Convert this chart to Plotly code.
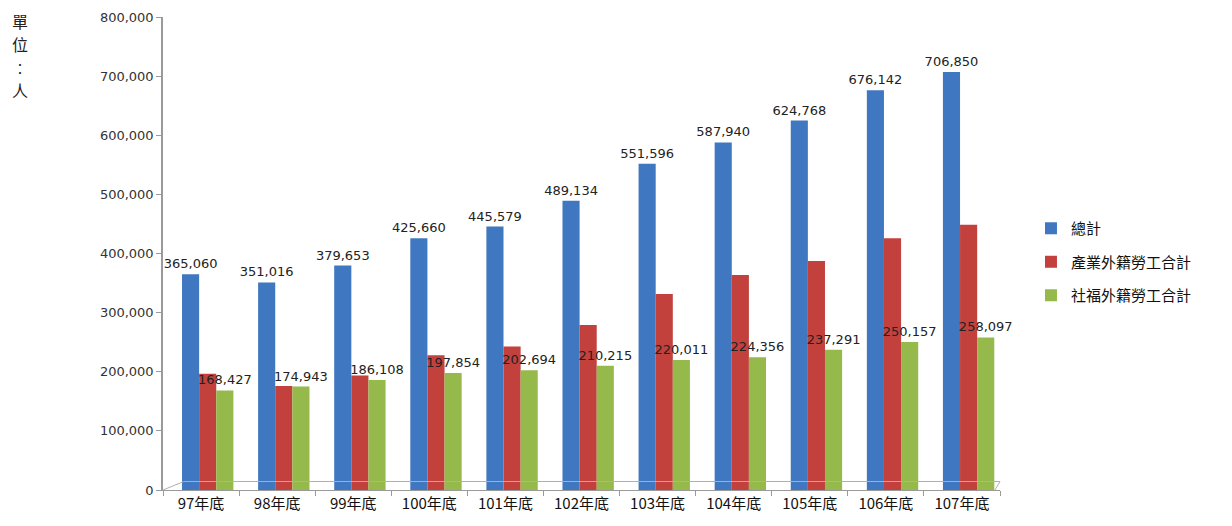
import plotly.graph_objects as go

categories = ["97年底", "98年底", "99年底", "100年底", "101年底", "102年底",
              "103年底", "104年底", "105年底", "106年底", "107年底"]
total = [365060, 351016, 379653, 425660, 445579, 489134, 551596, 587940, 624768, 676142, 706850]
industry = [196633, 176073, 193545, 227806, 242885, 278919, 331585, 363584, 387477, 425985, 448753]
welfare = [168427, 174943, 186108, 197854, 202694, 210215, 220011, 224356, 237291, 250157, 258097]
series_names = ["總計", "產業外籍勞工合計", "社福外籍勞工合計"]
colors = ["#3f77c0", "#c2413d", "#96b94c"]
unit_chars = ["單", "位", "︰", "人"]

FONT = "Noto Sans CJK TC, Noto Sans, sans-serif"
LABEL_FONT = dict(size=13, color="#222222", family="DejaVu Sans")
BAR_W = 0.225
OFFSETS = [-0.25, -0.025, 0.2]

fig = go.Figure()
fig.add_trace(go.Bar(
    x=categories, y=total, name=series_names[0], legendgroup="a",
    width=BAR_W, offset=OFFSETS[0],
    marker=dict(color=colors[0], line=dict(width=0)),
    text=[f"{v:,}" for v in total], textposition="outside", cliponaxis=False,
    constraintext="none", textfont=LABEL_FONT,
))
fig.add_trace(go.Bar(
    x=categories, y=industry, name=series_names[1], legendgroup="b",
    width=BAR_W, offset=OFFSETS[1],
    marker=dict(color=colors[1], line=dict(width=0)),
))
fig.add_trace(go.Bar(
    x=categories, y=welfare, name=series_names[2], legendgroup="c",
    width=BAR_W, offset=OFFSETS[2],
    marker=dict(color=colors[2], line=dict(width=0)),
    text=[f"{v:,}" for v in welfare], textposition="outside", cliponaxis=False,
    constraintext="none", textfont=LABEL_FONT,
))

# page is offset by the 8px body margin
L, R, T, B, W, H = 155, 240, 9, 44, 1232, 526
pw, ph = W - L - R, H - T - B

annotations = []
unit_y = [13, 36, 60, 82]
for ch, yy in zip(unit_chars, unit_y):
    annotations.append(dict(
        text=ch, x=(12 - L) / pw, y=(H - B - yy) / ph, xref="paper", yref="paper",
        showarrow=False, xanchor="center", yanchor="middle",
        font=dict(size=16, color="#222222", family=FONT)))

fig.update_layout(
    width=W, height=H,
    margin=dict(l=L, r=R, t=T, b=B, autoexpand=False),
    paper_bgcolor="white", plot_bgcolor="white",
    barmode="group",
    font=dict(family=FONT, size=13, color="#333333"),
    showlegend=True,
    legend=dict(x=1.037, y=0.482, xanchor="left", yanchor="middle",
                font=dict(size=15, color="#111111", family=FONT),
                itemwidth=30, traceorder="grouped", tracegroupgap=11),
    xaxis=dict(
        showline=True, linecolor="#9a9a9a", linewidth=1,
        ticks="outside", ticklen=5, tickcolor="#9a9a9a", tickson="boundaries",
        tickfont=dict(size=15, color="#111111", family=FONT),
        showgrid=False, automargin=False,
    ),
    yaxis=dict(
        range=[0, 800000], dtick=100000, tickformat=",",
        showline=True, linecolor="#9a9a9a", linewidth=1.5,
        ticks="outside", ticklen=5, tickcolor="#9a9a9a",
        tickfont=dict(size=13, color="#333333", family="DejaVu Sans"),
        showgrid=False, zeroline=False, automargin=False,
    ),
    shapes=[
        dict(type="path", xref="paper", yref="paper",
             path="M 0,0 L 0.025,0.018 L 1.0,0.018 L 0.994,0.0",
             line=dict(color="#b0b0b0", width=1)),
    ],
    annotations=annotations,
)

fig.write_html("out.html")
